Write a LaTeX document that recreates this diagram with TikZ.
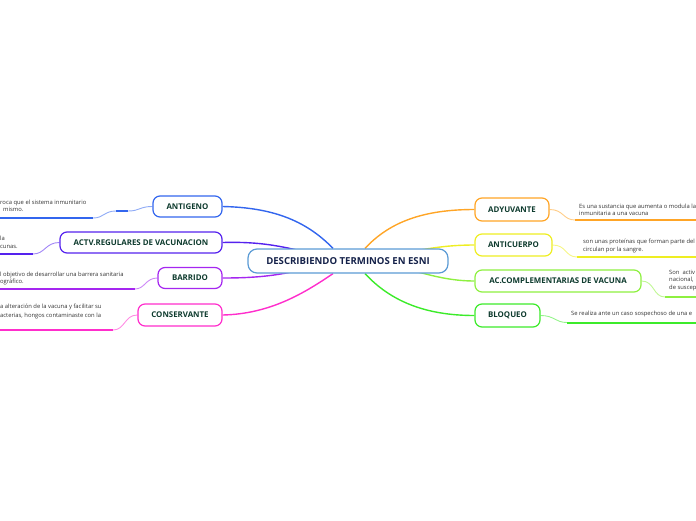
\documentclass[tikz,border=0pt]{standalone}
\usepackage{fontspec}
\setmainfont{Open Sans}
\usetikzlibrary{calc,backgrounds}
\definecolor{cblue}{HTML}{3366EE}
\definecolor{cindigo}{HTML}{5522EE}
\definecolor{cpurple}{HTML}{A526F0}
\definecolor{cmagenta}{HTML}{FF2ECC}
\definecolor{corange}{HTML}{FFA526}
\definecolor{cyellow}{HTML}{EEEE22}
\definecolor{clime}{HTML}{8EF040}
\definecolor{cgreen}{HTML}{3CEB2A}
\definecolor{ccentral}{HTML}{5B9BD5}
\definecolor{ctext}{HTML}{0E3B2E}
\definecolor{cnavy}{HTML}{15224A}
\definecolor{cdetail}{HTML}{333333}
\tikzset{
  topic/.style={draw=#1, line width=1.2pt, rounded corners=7pt, fill=white, inner sep=0pt,
    font=\bfseries\fontsize{7.9}{9}\selectfont, text=ctext},
  centralbox/.style={draw=ccentral, line width=1.2pt, rounded corners=9pt, fill=white, inner sep=0pt,
    font=\bfseries\fontsize{9.6}{11}\selectfont, text=cnavy},
  mainlink/.style={draw=#1, line width=1.4pt},
  sublink/.style={draw=#1!55, line width=0.9pt},
  underl/.style={draw=#1, line width=2pt},
  detail/.style={anchor=base west, inner sep=0pt, text=cdetail, font=\fontsize{5.85}{7}\selectfont},
}
\begin{document}
\begin{tikzpicture}[x=1pt,y=-1pt]
\useasboundingbox (0,0) rectangle (696,520);

% central
\node[centralbox, minimum width=200pt, minimum height=24pt] (central) at (348,261) {DESCRIBIENDO TERMINOS EN ESNI};

% left topics
\node[topic=cblue, minimum width=69pt, minimum height=21pt] (antigeno) at (187.5,206.5) {ANTIGENO};
\node[topic=cindigo, minimum width=162pt, minimum height=21pt] (actv) at (141,242.5) {ACTV.REGULARES DE VACUNACION};
\node[topic=cpurple, minimum width=64pt, minimum height=21pt] (barrido) at (190,278) {BARRIDO};
\node[topic=cmagenta, minimum width=84pt, minimum height=22pt] (conservante) at (180,315) {CONSERVANTE};

% right topics
\node[topic=corange, minimum width=74pt, minimum height=23pt] (adyuvante) at (512,209.5) {ADYUVANTE};
\node[topic=cyellow, minimum width=77pt, minimum height=22pt] (anticuerpo) at (513.5,245) {ANTICUERPO};
\node[topic=clime, minimum width=166pt, minimum height=22pt] (accomp) at (558,281) {AC.COMPLEMENTARIAS DE VACUNA};
\node[topic=cgreen, minimum width=65pt, minimum height=23pt] (bloqueo) at (507.5,315.5) {BLOQUEO};

% detail texts
\node[detail] (t1a) at (0,204) {roca que el sistema inmunitario};
\node[detail] (t1b) at (3,211) {mismo.};
\node[detail] (t2a) at (0,240) {la};
\node[detail] (t2b) at (0,248) {cunas.};
\node[detail] (t3a) at (0,276) {l objetivo de desarrollar una barrera sanitaria};
\node[detail] (t3b) at (0,283) {ográfico.};
\node[detail] (t4a) at (0,308) {a alteración de la vacuna y facilitar su};
\node[detail] (t4b) at (0,317) {acterias, hongos contaminaste con la};
\node[detail] (t5a) at (579,208) {Es una sustancia que aumenta o modula la};
\node[detail] (t5b) at (579,215) {inmunitaria a una vacuna};
\node[detail] (t6a) at (583,243) {son unas proteínas que forman parte del};
\node[detail] (t6b) at (583,251) {circulan por la sangre.};
\node[detail] (t7a) at (669,274) {Son\ \ activ};
\node[detail] (t7b) at (669,281) {nacional,};
\node[detail] (t7c) at (669,289) {de suscep};
\node[detail] (t8a) at (571,315) {Se realiza ante un caso sospechoso de una e};

% coordinates for underlines
\coordinate (u1e) at (0,218);   \coordinate (u1s) at (93,218);
\coordinate (u1m) at (116,211); \coordinate (u1n) at (128,211);
\coordinate (u2e) at (0,254);   \coordinate (u2s) at (33,254);
\coordinate (u3e) at (0,289);   \coordinate (u3s) at (135,289);
\coordinate (u4e) at (0,330);   \coordinate (u4s) at (113,330);
\coordinate (u5s) at (575,220); \coordinate (u5e) at (696,220);
\coordinate (u6s) at (577,257); \coordinate (u6e) at (696,257);
\coordinate (u7s) at (665,297); \coordinate (u7e) at (696,297);
\coordinate (u8s) at (567,322.5); \coordinate (u8e) at (696,322.5);

\begin{scope}[on background layer]
% main links
\draw[mainlink=cblue] (antigeno.east) .. controls +(48,1) and +(-28,-29) .. ($(central.north)+(-15,0)$);
\draw[mainlink=cindigo] (actv.east) .. controls +(38,-1) and +(-30,-7) .. ($(central.center)+(-38,-8)$);
\draw[mainlink=cpurple] (barrido.east) .. controls +(38,0) and +(-30,7) .. ($(central.center)+(-38,7)$);
\draw[mainlink=cmagenta] (conservante.east) .. controls +(48,-1) and +(-28,19) .. ($(central.south)+(-15,0)$);
\draw[mainlink=corange] (adyuvante.west) .. controls +(-50,0) and +(25,-27) .. ($(central.north)+(17,0)$);
\draw[mainlink=cyellow] (anticuerpo.west) .. controls +(-25,0) and +(20,-4) .. ($(central.center)+(62,-9)$);
\draw[mainlink=clime] (accomp.west) .. controls +(-25,0) and +(20,5) .. ($(central.center)+(62,9)$);
\draw[mainlink=cgreen] (bloqueo.west) .. controls +(-50,0) and +(25,27) .. ($(central.south)+(17,0)$);

% sub links and underlines
\draw[sublink=cblue] (antigeno.west) .. controls +(-13,0) and +(12,0) .. (u1n);
\draw[underl=cblue] (u1n) -- (u1m);
\draw[sublink=cblue] (u1m) .. controls +(-12,0) and +(11,0) .. (u1s);
\draw[underl=cblue] (u1s) -- (u1e);
\draw[sublink=cindigo] (actv.west) .. controls +(-14,0) and +(12,0) .. (u2s);
\draw[underl=cindigo] (u2s) -- (u2e);
\draw[sublink=cpurple] (barrido.west) .. controls +(-12,0) and +(10,0) .. (u3s);
\draw[underl=cpurple] (u3s) -- (u3e);
\draw[sublink=cmagenta] (conservante.west) .. controls +(-13,0) and +(12,0) .. (u4s);
\draw[underl=cmagenta] (u4s) -- (u4e);
\draw[sublink=corange] (adyuvante.east) .. controls +(14,0) and +(-12,0) .. (u5s);
\draw[underl=corange] (u5s) -- (u5e);
\draw[sublink=cyellow] (anticuerpo.east) .. controls +(14,0) and +(-12,0) .. (u6s);
\draw[underl=cyellow] (u6s) -- (u6e);
\draw[sublink=clime] (accomp.east) .. controls +(13,0) and +(-12,0) .. (u7s);
\draw[underl=clime] (u7s) -- (u7e);
\draw[sublink=cgreen] (bloqueo.east) .. controls +(14,0) and +(-12,0) .. (u8s);
\draw[underl=cgreen] (u8s) -- (u8e);
\end{scope}
\end{tikzpicture}
\end{document}
